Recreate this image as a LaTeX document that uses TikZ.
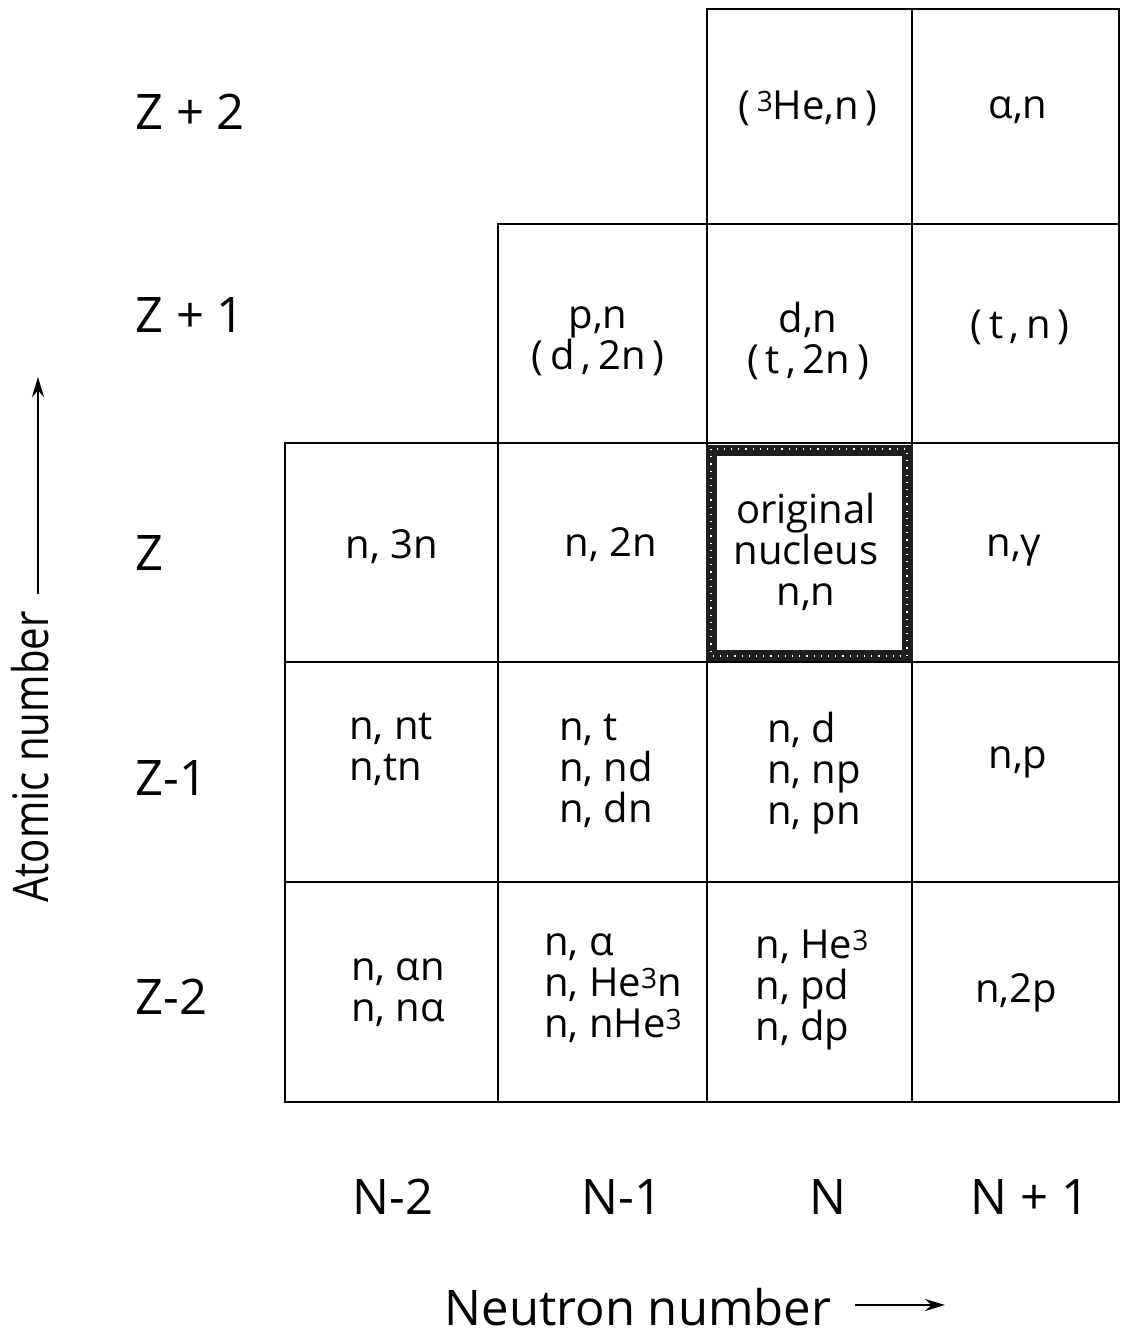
\documentclass[tikz,border=0pt]{standalone}
\usepackage{fontspec}
\usepackage{graphicx}
\setmainfont{Open Sans}
\usetikzlibrary{arrows.meta}
% small raised index, kept level with the capital height
\newcommand{\sups}[1]{\raisebox{4pt}{\fontsize{14}{14}\selectfont #1}}
\begin{document}
\begin{tikzpicture}[x=0.5pt,y=-0.5pt,
  gridline/.style={line width=1.3pt, line cap=rect},
  celltext/.style={font=\fontsize{20}{20.5}\selectfont, align=center, inner sep=0pt},
  celltextl/.style={celltext, align=left},
  axislabel/.style={font=\fontsize{24.5}{28}\selectfont, inner sep=0pt},
  axisarrow/.style={line width=1.3pt, -{Stealth[length=10pt,width=6pt]}}]
\useasboundingbox (0,0) rectangle (1124,1335);

% chart grid: rows Z+2 .. Z-2, columns N-2 .. N+1
\draw[gridline] (707,9) -- (1119,9);
\draw[gridline] (498,224) -- (1119,224);
\foreach \y in {443,662,882,1102} \draw[gridline] (285,\y) -- (1119,\y);
\draw[gridline] (285,443) -- (285,1102);
\draw[gridline] (498,224) -- (498,1102);
\foreach \x in {707,912,1119} \draw[gridline] (\x,9) -- (\x,1102);

% heavy frame around the original nucleus
\draw[line width=5.5pt, black!88] (711,450) rectangle (907,655);
\draw[white, line width=0.7pt, dash pattern=on 0.6pt off 3pt] (711,449) rectangle (907,656);

% row labels
\node[axislabel, anchor=west] (zp2) at (135,112) {Z + 2};
\node[axislabel, anchor=west] (zp1) at (135,315) {Z + 1};
\node[axislabel, anchor=west] (z0)  at (135,553) {Z};
\node[axislabel, anchor=west] (zm1) at (135,778) {Z-1};
\node[axislabel, anchor=west] (zm2) at (135,997) {Z-2};

% column labels
\node[axislabel] (nm2) at (393,1197) {N-2};
\node[axislabel] (nm1) at (622,1197) {N-1};
\node[axislabel] (n0)  at (828,1197) {N};
\node[axislabel] (np1) at (1030,1197) {N + 1};

% row Z+2
\node[celltext] (c20) at (808,108) {(\,\sups{3}He,n\,)};
\node[celltext] (c21) at (1018,110) {α,n};
% row Z+1
\node[celltext] (c1m1) at (598,341) {p,n\\(\,d\,,\,2n\,)};
\node[celltext] (c10)  at (808,341) {d,n\\(\,t\,,\,2n\,)};
\node[celltext] (c11)  at (1020,327) {(\,t\,,\,n\,)};
% row Z
\node[celltext] (c0m2) at (392,547) {n, 3n};
\node[celltext] (c0m1) at (611,545) {n, 2n};
\node[celltext] (c00)  at (806,552) {original\\nucleus\\n,n};
\node[celltext] (c01)  at (1014,550) {n,γ};
% row Z-1
\node[celltextl] (cm1m2) at (391,749) {n, nt\\n,tn};
\node[celltextl] (cm1m1) at (606,771) {n, t\\n, nd\\n, dn};
\node[celltextl] (cm10)  at (814,773) {n, d\\n, np\\n, pn};
\node[celltext]  (cm11)  at (1018,762) {n,p};
% row Z-2
\node[celltextl] (cm2m2) at (398,993) {n, αn\\n, nα};
\node[celltextl] (cm2m1) at (613,988) {n, α\\n, He\sups{3}n\\n, nHe\sups{3}};
\node[celltextl] (cm20)  at (812,990) {n, He\sups{3}\\n, pd\\n, dp};
\node[celltext]  (cm21)  at (1016,993) {n,2p};

% axis titles with arrows
\node[axislabel, rotate=90] (atomic) at (30,757) {\scalebox{0.82}[1]{Atomic number}};
\coordinate (atail) at (38,594);
\coordinate (ahead) at (38,377);
\draw[axisarrow] (atail) -- (ahead);

\node[axislabel, anchor=base] (neutron) at (638,1325) {Neutron number};
\coordinate (ntail) at (855,1305);
\coordinate (nhead) at (945,1305);
\draw[axisarrow] (ntail) -- (nhead);
\end{tikzpicture}
\end{document}
